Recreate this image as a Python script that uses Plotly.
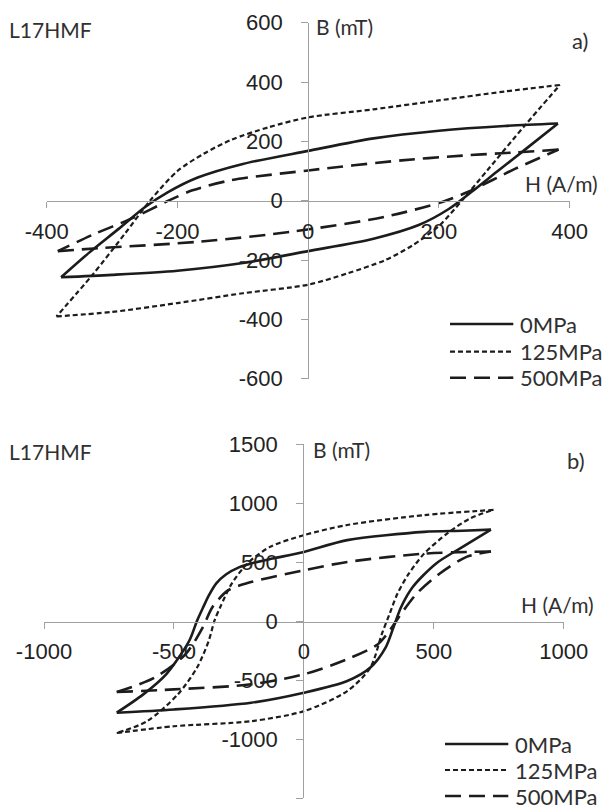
import plotly.graph_objects as go

W, H = 604, 809

# ---------------- data ----------------
series_names = ["0MPa", "125MPa", "500MPa"]

# panel a)  -- each loop stored as a descending (upper) and an ascending (lower) branch
a_0MPa_up_H = [382, 300, 200, 100, 0, -100, -169, -215, -250, -290, -335, -378]
a_0MPa_up_B = [260, 252, 236, 210, 168, 124, 78, 28, -22, -95, -175, -258]
a_0MPa_lo_H = [-378, -300, -200, -100, 0, 100, 169, 215, 250, 290, 335, 382]
a_0MPa_lo_B = [-258, -250, -236, -210, -170, -128, -82, -28, 30, 100, 178, 260]

a_125MPa_up_H = [385, 300, 200, 100, 0, -60, -118, -160, -200, -242, -280, -330, -385]
a_125MPa_up_B = [390, 368, 338, 308, 281, 248, 205, 158, 100, 0, -110, -250, -390]
a_125MPa_lo_H = [-385, -300, -200, -100, 0, 60, 118, 160, 200, 235, 275, 330, 385]
a_125MPa_lo_B = [-390, -375, -345, -312, -283, -245, -200, -150, -85, 0, 105, 250, 390]

a_500MPa_up_H = [383, 296, 236, 143, 0, -118, -177, -212, -268, -330, -383]
a_500MPa_up_B = [172, 160, 152, 136, 102, 69, 35, 2, -58, -115, -170]
a_500MPa_lo_H = [-383, -319, -166, -23, 118, 205, 245, 317, 383]
a_500MPa_lo_B = [-170, -160, -138, -104, -54, -4, 30, 108, 172]

# panel b)
b_0MPa_up_H = [720, 611, 463, 167, 0, -120, -200, -250, -300, -337, -365, -388, -411, -441, -530, -618, -720]
b_0MPa_up_B = [775, 765, 756, 686, 586, 530, 490, 455, 395, 320, 220, 115, 4, -166, -450, -620, -775]
b_0MPa_lo_H = [-720, -500, -203, 0, 167, 256, 315, 345, 374, 419, 508, 611, 720]
b_0MPa_lo_B = [-775, -748, -691, -606, -507, -393, -222, -52, 118, 289, 487, 629, 775]

b_125MPa_up_H = [730, 463, 167, 0, -130, -218, -278, -322, -344, -366, -411, -485, -603, -720]
b_125MPa_up_B = [942, 898, 814, 728, 629, 487, 316, 118, 4, -166, -393, -620, -847, -947]
b_125MPa_lo_H = [-720, -500, -203, 0, 167, 256, 300, 330, 360, 404, 463, 552, 641, 730]
b_125MPa_lo_B = [-947, -890, -847, -762, -592, -393, -109, 61, 232, 402, 572, 743, 871, 942]

b_500MPa_up_H = [720, 463, 167, 0, -203, -292, -352, -389, -455, -574, -720]
b_500MPa_up_B = [590, 572, 501, 431, 331, 260, 118, -52, -279, -478, -600]
b_500MPa_lo_H = [-720, -500, -203, 0, 167, 285, 330, 374, 434, 522, 626, 720]
b_500MPa_lo_B = [-600, -578, -535, -450, -322, -195, -80, 61, 232, 402, 544, 590]

a_xticks = [-400, -200, 0, 200, 400]
a_xticktext = ["-400", "-200", "0", "200", "400"]
a_yticks = [-600, -400, -200, 0, 200, 400, 600]
a_yticktext = ["-600", "-400", "-200", "0", "200", "400", "600"]
b_xticks = [-1000, -500, 0, 500, 1000]
b_xticktext = ["-1000", "-500", "0", "500", "1000"]
b_yticks = [-1500, -1000, -500, 0, 500, 1000, 1500]
b_yticktext = ["-1500", "-1000", "-500", "0", "500", "1000", "1500"]

# ---------------- styling ----------------
INK = "#1c1c1c"
AXC = "#a0a0a0"
TICKFONT = dict(family="Liberation Sans, Arial, sans-serif", size=22, color="#222222")
LABFONT = dict(family="Lato, Carlito, sans-serif", size=21, color="#303030")
LEGFONT = dict(family="Lato, Carlito, sans-serif", size=22, color="#303030")
styles = {
    "0MPa": dict(color=INK, width=2.6, dash="solid"),
    "125MPa": dict(color=INK, width=2.2, dash="5px,3px"),
    "500MPa": dict(color=INK, width=2.6, dash="16px,8px"),
}


def px(x):
    return x / W


def py(y):
    return (H - y) / H


fig = go.Figure()

panels = [
    ("x", "y", {
        "0MPa": [(a_0MPa_up_H, a_0MPa_up_B), (a_0MPa_lo_H, a_0MPa_lo_B)],
        "125MPa": [(a_125MPa_up_H, a_125MPa_up_B), (a_125MPa_lo_H, a_125MPa_lo_B)],
        "500MPa": [(a_500MPa_up_H, a_500MPa_up_B), (a_500MPa_lo_H, a_500MPa_lo_B)],
    }),
    ("x2", "y2", {
        "0MPa": [(b_0MPa_up_H, b_0MPa_up_B), (b_0MPa_lo_H, b_0MPa_lo_B)],
        "125MPa": [(b_125MPa_up_H, b_125MPa_up_B), (b_125MPa_lo_H, b_125MPa_lo_B)],
        "500MPa": [(b_500MPa_up_H, b_500MPa_up_B), (b_500MPa_lo_H, b_500MPa_lo_B)],
    }),
]
for xa, ya, data in panels:
    for name in series_names:
        for hx, by in data[name]:
            fig.add_trace(go.Scatter(x=hx, y=by, mode="lines", name=name, xaxis=xa, yaxis=ya,
                                     line=dict(shape="spline", smoothing=0.8, **styles[name]),
                                     showlegend=False, hoverinfo="skip"))

common = dict(showgrid=False, zeroline=False, showline=True, linecolor=AXC, linewidth=1.3,
              ticks="outside", tickcolor=AXC, tickwidth=1.3, tickfont=TICKFONT,
              tickmode="array", automargin=False, fixedrange=True)

# panel a geometry (pixels)
a_left, a_right, a_top, a_bot = 46.7, 569.7, 22.7, 378.7
a_x0px, a_y0px = 308.3, 200.6
# panel b geometry
b_left, b_right, b_top, b_bot = 44.0, 563.7, 444.0, 798.3
b_x0px, b_y0px = 303.3, 622.0

fig.update_layout(
    width=W, height=H, margin=dict(l=0, r=0, t=0, b=0), autosize=False,
    paper_bgcolor="white", plot_bgcolor="rgba(0,0,0,0)",
    xaxis=dict(domain=[px(a_left), px(a_right)], range=[-400, 400], tickvals=a_xticks,
               ticktext=a_xticktext, anchor="free", position=py(a_y0px), ticklen=6,
               ticklabelstandoff=5, **common),
    yaxis=dict(domain=[py(a_bot), py(a_top)], range=[-600, 600], tickvals=a_yticks,
               ticktext=a_yticktext, anchor="free", position=px(a_x0px), ticklen=7,
               ticklabelstandoff=14, **common),
    xaxis2=dict(domain=[px(b_left), px(b_right)], range=[-1000, 1000], tickvals=b_xticks,
                ticktext=b_xticktext, anchor="free", position=py(b_y0px), ticklen=6,
                ticklabelstandoff=3, **common),
    yaxis2=dict(domain=[py(b_bot), py(b_top)], range=[-1500, 1500], tickvals=b_yticks,
                ticktext=b_yticktext, anchor="free", position=px(b_x0px), ticklen=7,
                ticklabelstandoff=14, **common),
)

annotations = []
shapes = []


def text(x, y, s, anchor="left", font=LABFONT):
    annotations.append(dict(x=px(x), y=py(y), xref="paper", yref="paper", text=s,
                            showarrow=False, xanchor=anchor, yanchor="middle", font=font,
                            borderpad=0))


# panel a labels
text(8.0, 29.5, "L17HMF")
text(315.0, 26.0, "B (mT)")
text(571.0, 40.0, "a)", font=dict(LABFONT, size=22))
text(524.0, 183.3, "H (A/m)")
# panel b labels
text(7.5, 451.0, "L17HMF")
text(312.0, 449.0, "B (mT)")
text(566.0, 461.0, "b)", font=dict(LABFONT, size=22))
text(520.0, 604.7, "H (A/m)")

# manual legends (line sample + label)
legend_rows = [
    (450.0, 513.3, 519.0, [324.0, 351.7, 377.7]),
    (445.0, 508.3, 514.0, [744.0, 770.0, 796.0]),
]
for x0, x1, xt, ys in legend_rows:
    for name, yy in zip(series_names, ys):
        st = styles[name]
        shapes.append(dict(type="line", xref="paper", yref="paper",
                           x0=px(x0), x1=px(x1), y0=py(yy), y1=py(yy),
                           line=dict(color=st["color"], width=st["width"], dash=st["dash"])))
        text(xt, yy, name, font=LEGFONT)

fig.update_layout(annotations=annotations, shapes=shapes)

# the page body's default 8px margin would shift the figure; remove it
fig.write_html("out.html", config={"displayModeBar": False},
               post_script="document.body.style.margin='0';document.body.style.overflow='hidden';")
